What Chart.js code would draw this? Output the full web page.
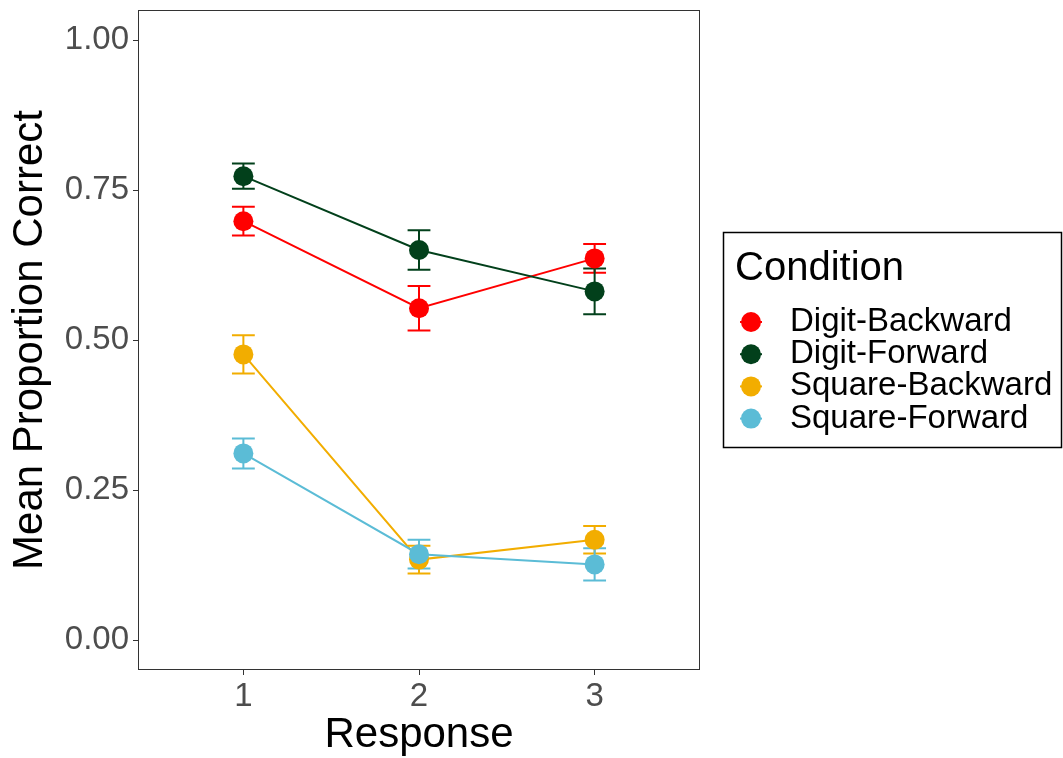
<!DOCTYPE html>
<html>
<head>
<meta charset="utf-8">
<title>Mean Proportion Correct by Response</title>
<script src="https://cdn.jsdelivr.net/npm/chart.js"></script>
<style>
  body { margin: 0; background: #fff; }
  #wrap { width: 1063px; height: 758px; }
</style>
</head>
<body>
<div id="wrap"><canvas id="chart" width="1063" height="758"></canvas></div>
<script>
// Data
const responses = [1, 2, 3];
const conditions = ['Digit-Backward', 'Digit-Forward', 'Square-Backward', 'Square-Forward'];
const colors = ['#FF0000', '#02401B', '#F2AD00', '#5BBCD6'];

const digitBackward = [0.698, 0.553, 0.636];
const digitForward = [0.773, 0.650, 0.581];
const squareBackward = [0.476, 0.134, 0.167];
const squareForward = [0.311, 0.143, 0.126];

// standard errors (half height of each error bar)
const digitBackwardSE = [0.024, 0.037, 0.024];
const digitForwardSE = [0.021, 0.033, 0.038];
const squareBackwardSE = [0.032, 0.023, 0.023];
const squareForwardSE = [0.025, 0.024, 0.027];

const yTicks = [0, 0.25, 0.5, 0.75, 1];
const xTicks = [1, 2, 3];

const means = [digitBackward, digitForward, squareBackward, squareForward];
const errors = [digitBackwardSE, digitForwardSE, squareBackwardSE, squareForwardSE];

const FONT = '"Liberation Sans", Arial, Helvetica, sans-serif';

// Error bars drawn under the lines and points
const errorBars = {
    id: 'errorBars',
    beforeDatasetsDraw(chart) {
        const { ctx, scales: { x, y } } = chart;
        const capHalf = 0.065;
        ctx.save();
        ctx.lineWidth = 2;
        means.forEach((series, i) => {
            ctx.strokeStyle = colors[i];
            series.forEach((m, j) => {
                const px = x.getPixelForValue(responses[j]);
                const left = x.getPixelForValue(responses[j] - capHalf);
                const right = x.getPixelForValue(responses[j] + capHalf);
                const top = y.getPixelForValue(m + errors[i][j]);
                const bottom = y.getPixelForValue(m - errors[i][j]);
                ctx.beginPath();
                ctx.moveTo(px, top);
                ctx.lineTo(px, bottom);
                ctx.moveTo(left, top);
                ctx.lineTo(right, top);
                ctx.moveTo(left, bottom);
                ctx.lineTo(right, bottom);
                ctx.stroke();
            });
        });
        ctx.restore();
    }
};

// Panel border + legend box on the right
const frameAndLegend = {
    id: 'frameAndLegend',
    afterDraw(chart) {
        const { ctx, chartArea: a } = chart;
        ctx.save();
        ctx.strokeStyle = '#333333';
        ctx.lineWidth = 1;
        ctx.strokeRect(a.left + 0.5, a.top + 0.5, a.right - a.left - 1, a.bottom - a.top - 1);

        // legend
        ctx.strokeStyle = '#000';
        ctx.lineWidth = 1.5;
        ctx.strokeRect(723.5, 232.5, 338, 215);

        ctx.fillStyle = '#000';
        ctx.textBaseline = 'alphabetic';
        ctx.font = '40px ' + FONT;
        ctx.fillText('Condition', 735, 280);

        ctx.font = '33px ' + FONT;
        ctx.textBaseline = 'middle';
        conditions.forEach((name, i) => {
            const cy = 322 + i * 32.2;
            ctx.strokeStyle = colors[i];
            ctx.fillStyle = colors[i];
            ctx.lineWidth = 2;
            ctx.beginPath();
            ctx.moveTo(740, cy);
            ctx.lineTo(762, cy);
            ctx.stroke();
            ctx.beginPath();
            ctx.arc(751, cy, 10, 0, Math.PI * 2);
            ctx.fill();
            ctx.fillStyle = '#000';
            ctx.fillText(name, 790, cy);
        });
        ctx.restore();
    }
};

const datasets = conditions.map((name, i) => ({
    label: name,
    data: responses.map((r, j) => ({ x: r, y: means[i][j] })),
    borderColor: colors[i],
    backgroundColor: colors[i],
    pointBackgroundColor: colors[i],
    pointBorderWidth: 0,
    pointRadius: 10,
    borderWidth: 2,
    tension: 0,
    order: conditions.length - i
}));

new Chart(document.getElementById('chart'), {
    type: 'line',
    data: { datasets },
    options: {
        responsive: false,
        devicePixelRatio: 1,
        animation: false,
        layout: { padding: { top: 10, right: 363, left: 0, bottom: 0 } },
        plugins: {
            legend: { display: false },
            tooltip: { enabled: false }
        },
        scales: {
            x: {
                type: 'linear',
                min: 0.4,
                max: 3.6,
                afterBuildTicks: scale => { scale.ticks = xTicks.map(v => ({ value: v })); },
                afterFit: scale => {
                    scale.height = 88;
                    scale.paddingLeft = 0;
                    scale.paddingRight = 0;
                },
                grid: { drawOnChartArea: false, drawTicks: true, tickLength: 5, color: '#333333', lineWidth: 1 },
                border: { display: false },
                ticks: {
                    color: '#4D4D4D',
                    font: { family: FONT, size: 33 },
                    padding: 2,
                    callback: v => String(v)
                },
                title: {
                    display: true,
                    text: 'Response',
                    color: '#000',
                    font: { family: FONT, size: 42, lineHeight: 1 },
                    padding: { top: 0, bottom: 2 }
                }
            },
            y: {
                type: 'linear',
                min: -0.05,
                max: 1.05,
                afterBuildTicks: scale => { scale.ticks = yTicks.map(v => ({ value: v })); },
                afterFit: scale => {
                    scale.width = 138;
                    scale.paddingTop = 0;
                    scale.paddingBottom = 0;
                },
                grid: { drawOnChartArea: false, drawTicks: true, tickLength: 5, color: '#333333', lineWidth: 1 },
                border: { display: false },
                ticks: {
                    color: '#4D4D4D',
                    font: { family: FONT, size: 33 },
                    padding: 4,
                    callback: v => Number(v).toFixed(2)
                },
                title: {
                    display: true,
                    text: 'Mean Proportion Correct',
                    color: '#000',
                    font: { family: FONT, size: 42, lineHeight: 1 },
                    padding: { top: 9, bottom: 0 }
                }
            }
        }
    },
    plugins: [errorBars, frameAndLegend]
});
</script>
</body>
</html>
